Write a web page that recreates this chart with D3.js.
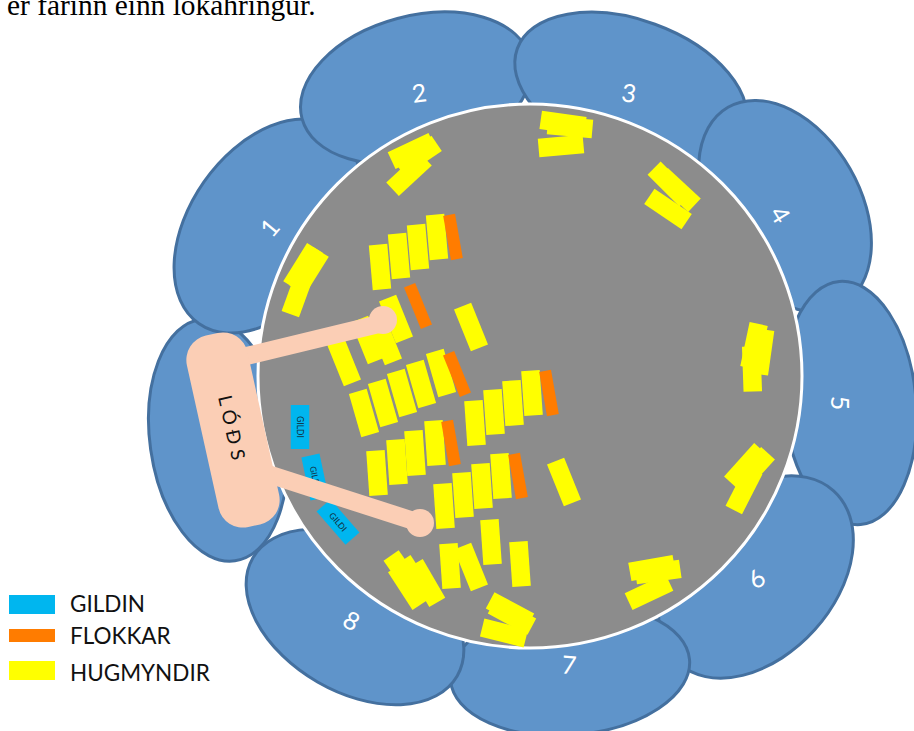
<!DOCTYPE html>
<html>
<head>
<meta charset="utf-8">
<script src="https://cdn.jsdelivr.net/npm/d3@7"></script>
<style>
  html, body { margin: 0; padding: 0; background: #fff; overflow: hidden; }
  svg { display: block; }
</style>
</head>
<body>
<svg width="914" height="731"></svg>
<script>
// wheel units: 0,0 is the middle of the grey disc, 272 is its rim
const petalNames = ['', '1', '2', '3', '4', '5', '6', '7', '8'];
const petalPlace = [[-312, 64], [-263, -150], [-114, -288], [101, -286], [255, -170], [320, 27], [226, 201], [40, 294], [-175, 241]];
const petalLong = [122, 119, 118, 121, 114, 122, 116, 120, 118];
const petalShort = [68, 77, 72, 70, 75, 66, 79, 65, 75];
const petalTilt = [-8, 35, 75, -70, -30, -5, 42, 85, -60];
const labelPlace = [null, [-261, -149], [-111, -284], [99, -284], [251, -162], [311, 27], [226, 202], [39, 288], [-178, 244]];
const labelTilt = [0, -50, -8, 8, 58, 90, -35, 5, 30];

const ideas = [
  [-150, -109, -5], [-131, -120, -5], [-112, -129, -5], [-93, -139, -5],
  [-166, 37, -16], [-147, 27, -16], [-128, 17, -16], [-109, 8, -16], [-89, -3, -16],
  [-153, 97, -4], [-133, 86, -4], [-115, 77, -4], [-95, 67, -4],
  [-55, 47, -4], [-36, 36, -4], [-17, 27, -4], [2, 17, -4],
  [-86, 130, -4], [-67, 119, -4], [-48, 110, -4], [-29, 100, -4],
  [34, 106, -22], [-59, -49, -22],
  [-134, -57, -22], [-186, -14, -22], [-162, -36, -22], [-145, -35, -22],
  [-227, -109, 32], [-221, -105, 32], [-232, -83, 20],
  [-118, -225, 65], [-112, -220, 56], [-121, -202, 47],
  [33, -253, 98], [40, -249, 95], [31, -230, 85],
  [140, -192, -45], [148, -186, -47], [138, -167, -56],
  [224, -30, 12], [232, -24, 8], [222, -7, -2],
  [216, 90, 42], [223, 94, 42], [214, 114, 27],
  [122, 192, 80], [128, 196, 82], [119, 216, 65],
  [-20, 235, -62], [-18, 240, -62], [-26, 257, -76],
  [-126, 198, -35], [-115, 203, -33], [-122, 210, -33], [-104, 207, -30],
  [-80, 190, -4], [-59, 191, -22], [-39, 166, -4], [-10, 188, -4]
];
const groups = [[-77, -139, -10], [-73, -2, -22], [-79, 67, -10], [19, 17, -10], [-12, 100, -10], [-112, -70, -22]];
const values = [[-230, 51, 0], [-215, 101, -12], [-192, 146, -41]];
const valueLabel = 'GILDI';

const lodsName = 'LÓÐS';
const lodsPlace = [-297, 54];
const lodsTilt = -12.5;
const arms = [[[-292, -18], [-147, -53]], [[-265, 97], [-110, 147]]];
const armEnds = [[-147, -56], [-110, 147]];

const legendNames = ['GILDIN', 'FLOKKAR', 'HUGMYNDIR'];
const captionText = 'er farinn einn lokahringur.';

const colors = { petal: '#5f94ca', petalLine: '#44709f', disc: '#8c8c8c', idea: '#ffff00', group: '#ff7c00', value: '#00b6ef', lods: '#fbceb5' };

const svg = d3.select('svg');
const x = d3.scaleLinear().domain([-272, 272]).range([258, 802]);
const y = d3.scaleLinear().domain([-272, 272]).range([104, 648]);
const size = d3.scaleLinear().domain([0, 272]).range([0, 272]);

// petals, in order so each one laps over the one before
svg.selectAll('ellipse.petal')
  .data(petalPlace)
  .join('ellipse')
  .attr('class', 'petal')
  .attr('rx', (d, i) => size(petalShort[i]))
  .attr('ry', (d, i) => size(petalLong[i]))
  .attr('transform', (d, i) => `translate(${x(d[0])},${y(d[1])}) rotate(${petalTilt[i]})`)
  .attr('fill', colors.petal)
  .attr('stroke', colors.petalLine)
  .attr('stroke-width', 3);

svg.selectAll('text.petalName')
  .data(petalNames.slice(1))
  .join('text')
  .attr('class', 'petalName')
  .attr('transform', (d, i) => `translate(${x(labelPlace[i + 1][0])},${y(labelPlace[i + 1][1])}) rotate(${labelTilt[i + 1]})`)
  .attr('text-anchor', 'middle')
  .attr('dominant-baseline', 'central')
  .attr('font-family', 'Lato')
  .attr('font-size', 25)
  .attr('fill', '#fff')
  .text((d) => d);

svg.append('circle')
  .attr('cx', x(0))
  .attr('cy', y(0))
  .attr('r', size(272))
  .attr('fill', colors.disc)
  .attr('stroke', '#fff')
  .attr('stroke-width', 3);

function drawCards(rows, cls, w, h, fill) {
  return svg.selectAll('rect.' + cls)
    .data(rows)
    .join('rect')
    .attr('class', cls)
    .attr('x', -w / 2)
    .attr('y', -h / 2)
    .attr('width', w)
    .attr('height', h)
    .attr('transform', (d) => `translate(${x(d[0])},${y(d[1])}) rotate(${d[2]})`)
    .attr('fill', fill);
}

drawCards(values, 'value', 18.5, 44, colors.value);
svg.selectAll('text.valueName')
  .data(values)
  .join('text')
  .attr('class', 'valueName')
  .attr('transform', (d) => `translate(${x(d[0])},${y(d[1])}) rotate(${d[2] + 90})`)
  .attr('text-anchor', 'middle')
  .attr('dominant-baseline', 'central')
  .attr('font-family', 'Lato')
  .attr('font-size', 8.5)
  .attr('fill', '#10303f')
  .text(valueLabel);
drawCards(ideas, 'idea', 18.5, 45, colors.idea);
drawCards(groups, 'group', 12, 45, colors.group);

// the lods block with its two arms
svg.selectAll('line.arm')
  .data(arms)
  .join('line')
  .attr('class', 'arm')
  .attr('x1', (d) => x(d[0][0]))
  .attr('y1', (d) => y(d[0][1]))
  .attr('x2', (d) => x(d[1][0]))
  .attr('y2', (d) => y(d[1][1]))
  .attr('stroke', colors.lods)
  .attr('stroke-width', 18);
svg.selectAll('circle.armEnd')
  .data(armEnds)
  .join('circle')
  .attr('class', 'armEnd')
  .attr('cx', (d) => x(d[0]))
  .attr('cy', (d) => y(d[1]))
  .attr('r', 14)
  .attr('fill', colors.lods);

const lods = svg.append('g')
  .attr('transform', `translate(${x(lodsPlace[0])},${y(lodsPlace[1])}) rotate(${lodsTilt})`);
lods.append('rect')
  .attr('x', -31)
  .attr('y', -98)
  .attr('width', 62)
  .attr('height', 196)
  .attr('rx', 25)
  .attr('fill', colors.lods);
lods.append('text')
  .attr('transform', 'rotate(90)')
  .attr('text-anchor', 'middle')
  .attr('dominant-baseline', 'central')
  .attr('font-family', 'Lato')
  .attr('font-size', 19)
  .attr('letter-spacing', 5.5)
  .attr('fill', '#111')
  .text(lodsName);

// legend
const legendY = d3.scalePoint().domain(legendNames).range([604.5, 670.5]);
const legendH = [19, 13, 19];
const legendFill = [colors.value, colors.group, colors.idea];
const legendDrop = [7, 6, 10.5];
svg.selectAll('rect.key')
  .data(legendNames)
  .join('rect')
  .attr('class', 'key')
  .attr('x', 9)
  .attr('y', (d, i) => legendY(d) - legendH[i] / 2 - (i === 1 ? 2 : 0))
  .attr('width', 46)
  .attr('height', (d, i) => legendH[i])
  .attr('fill', (d, i) => legendFill[i]);
svg.selectAll('text.key')
  .data(legendNames)
  .join('text')
  .attr('class', 'key')
  .attr('x', 70)
  .attr('y', (d, i) => legendY(d) + legendDrop[i])
  .attr('font-family', 'Lato')
  .attr('font-size', 22.5)
  .attr('fill', '#111')
  .text((d) => d);

svg.append('text')
  .attr('x', 7)
  .attr('y', 15)
  .attr('font-family', 'Liberation Serif')
  .attr('font-size', 29.4)
  .attr('fill', '#000')
  .text(captionText);
</script>
</body>
</html>
